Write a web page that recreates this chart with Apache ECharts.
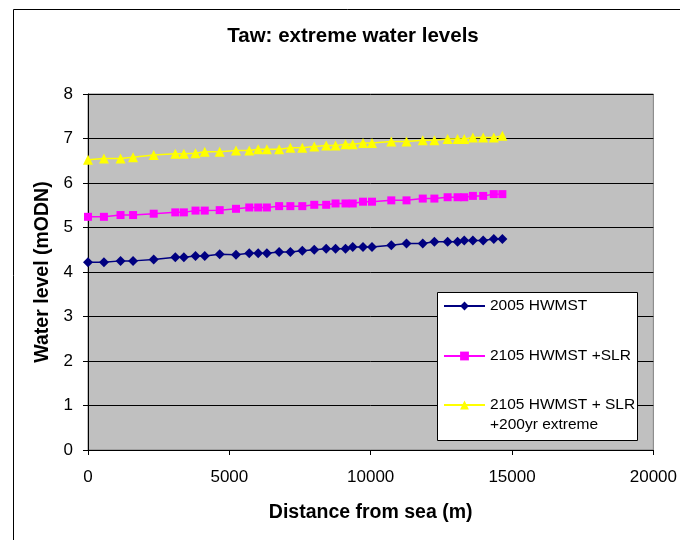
<!DOCTYPE html>
<html>
<head>
<meta charset="utf-8">
<script src="https://cdn.jsdelivr.net/npm/echarts@6/dist/echarts.min.js"></script>
<style>
html,body{margin:0;padding:0;background:#fff;}
#chart{width:680px;height:540px;}
</style>
</head>
<body>
<div id="chart"></div>
<script>
var titleText = 'Taw: extreme water levels';
var xName = 'Distance from sea (m)';
var yName = 'Water level (mODN)';
var seriesNames = ['2005 HWMST', '2105 HWMST +SLR', '2105 HWMST + SLR\n+200yr extreme'];

var distance = [0, 563, 1151, 1595, 2324, 3088, 3391, 3803, 4130, 4659, 5236, 5705, 6021, 6328, 6761, 7159, 7581, 8004, 8426, 8757, 9109, 9366, 9729, 10046, 10729, 11268, 11842, 12253, 12722, 13074, 13310, 13616, 13979, 14355, 14658];
var hwmst2005 = [4.22, 4.22, 4.25, 4.25, 4.28, 4.33, 4.33, 4.36, 4.36, 4.40, 4.39, 4.42, 4.42, 4.42, 4.45, 4.45, 4.48, 4.50, 4.52, 4.52, 4.52, 4.56, 4.56, 4.56, 4.60, 4.64, 4.64, 4.68, 4.68, 4.68, 4.71, 4.71, 4.71, 4.74, 4.74];
var hwmst2105 = [5.24, 5.24, 5.28, 5.28, 5.31, 5.34, 5.34, 5.38, 5.38, 5.39, 5.42, 5.45, 5.45, 5.45, 5.48, 5.48, 5.48, 5.51, 5.51, 5.54, 5.54, 5.54, 5.58, 5.58, 5.61, 5.61, 5.65, 5.65, 5.68, 5.68, 5.68, 5.71, 5.71, 5.75, 5.75];
var extreme2105 = [6.52, 6.55, 6.55, 6.58, 6.63, 6.66, 6.66, 6.67, 6.70, 6.70, 6.73, 6.73, 6.76, 6.76, 6.76, 6.79, 6.79, 6.82, 6.84, 6.84, 6.87, 6.87, 6.90, 6.90, 6.93, 6.93, 6.96, 6.96, 6.99, 6.99, 6.99, 7.02, 7.02, 7.02, 7.06];

function pairs(xs, ys) {
  return xs.map(function (x, i) { return [x, ys[i]]; });
}

var FONT = '"Liberation Sans", Arial, sans-serif';
var chart = echarts.init(document.getElementById('chart'), null, {renderer: 'canvas'});

chart.setOption({
  animation: false,
  backgroundColor: '#ffffff',
  textStyle: {fontFamily: FONT},
  title: {
    text: titleText,
    left: 348, top: 21,
    textAlign: 'center',
    textStyle: {fontFamily: FONT, fontSize: 20.5, fontWeight: 'bold', color: '#000'}
  },
  graphic: [
    {type: 'rect', left: 11, top: 7, silent: true, z: 0,
     shape: {x: 0, y: 0, width: 720, height: 600},
     style: {fill: null, stroke: '#000', lineWidth: 1}},
    {type: 'rect', left: 437, top: 292, z: 3, silent: true,
     shape: {x: 0, y: 0, width: 200, height: 148},
     style: {fill: '#ffffff', stroke: '#000', lineWidth: 1}}
  ],
  grid: {
    left: 88, top: 94, right: 22, bottom: 90,
    show: true, backgroundColor: '#c0c0c0', borderColor: '#808080', borderWidth: 1
  },
  xAxis: {
    type: 'value', min: 0, max: 20000, interval: 5000,
    name: xName, nameLocation: 'middle', nameGap: 53,
    nameTextStyle: {fontFamily: FONT, fontSize: 19.5, fontWeight: 'bold', color: '#000'},
    axisLine: {show: true, onZero: false, lineStyle: {color: '#000', width: 1}},
    axisTick: {show: true, length: 5, inside: false, lineStyle: {color: '#000'}},
    axisLabel: {fontFamily: FONT, fontSize: 17, color: '#000', margin: 19,
      formatter: function (v) { return String(v); }},
    splitLine: {show: false}
  },
  yAxis: {
    type: 'value', min: 0, max: 8, interval: 1,
    name: yName, nameLocation: 'middle', nameGap: 34, nameRotate: 90,
    nameTextStyle: {fontFamily: FONT, fontSize: 19.5, fontWeight: 'bold', color: '#000'},
    axisLine: {show: true, lineStyle: {color: '#000', width: 1}},
    axisTick: {show: true, length: 5, inside: false, lineStyle: {color: '#000'}},
    axisLabel: {fontFamily: FONT, fontSize: 17, color: '#000', margin: 15},
    splitLine: {show: true, lineStyle: {color: '#000', width: 1}}
  },
  legend: [
    {
      data: [seriesNames[0], seriesNames[1]],
      orient: 'vertical', left: 443, top: 297, padding: 0,
      itemWidth: 41, itemHeight: 11, itemGap: 32, z: 5,
      textStyle: {fontFamily: FONT, fontSize: 15.5, color: '#000', lineHeight: 18}
    },
    {
      data: [seriesNames[2]],
      orient: 'vertical', left: 443, top: 375, padding: 0,
      itemWidth: 41, itemHeight: 11, z: 5,
      formatter: function (n) { return '\n' + n; },
      textStyle: {fontFamily: FONT, fontSize: 15.5, color: '#000', lineHeight: 20}
    }
  ],
  series: [
    {
      name: seriesNames[0], type: 'line', data: pairs(distance, hwmst2005),
      symbol: 'diamond', symbolSize: 10,
      lineStyle: {color: '#000080', width: 1.5},
      itemStyle: {color: '#000080'}, z: 2
    },
    {
      name: seriesNames[1], type: 'line', data: pairs(distance, hwmst2105),
      symbol: 'rect', symbolSize: 8,
      lineStyle: {color: '#ff00ff', width: 1.5},
      itemStyle: {color: '#ff00ff'}, z: 2
    },
    {
      name: seriesNames[2], type: 'line', data: pairs(distance, extreme2105),
      symbol: 'triangle', symbolSize: 10,
      lineStyle: {color: '#ffff00', width: 1.5},
      itemStyle: {color: '#ffff00'}, z: 2
    }
  ]
});
</script>
</body>
</html>
